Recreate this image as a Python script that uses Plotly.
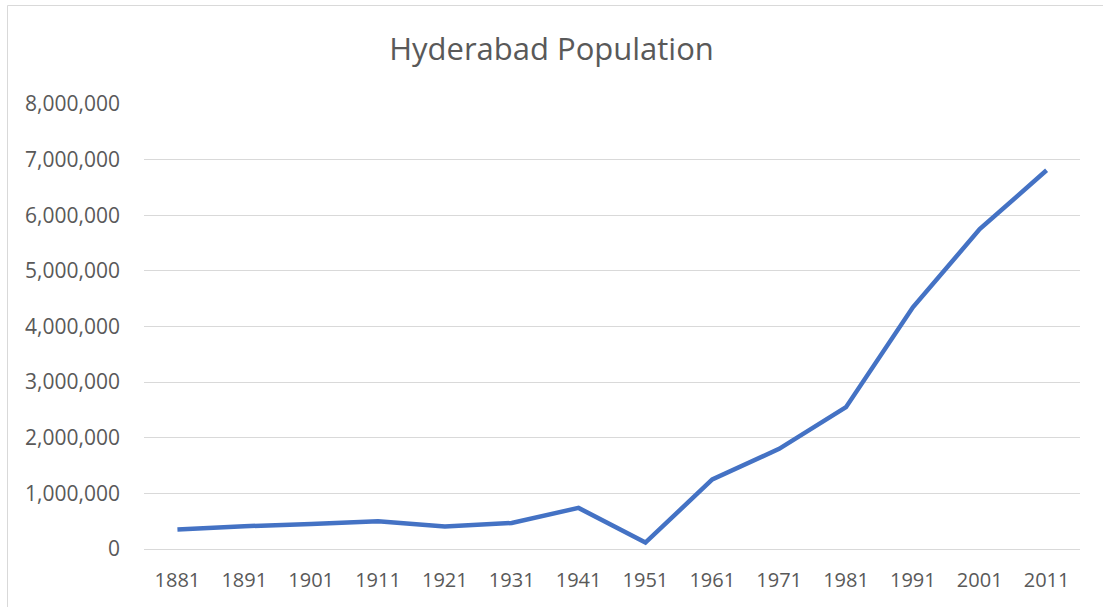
import plotly.graph_objects as go

years = ["1881", "1891", "1901", "1911", "1921", "1931", "1941",
         "1951", "1961", "1971", "1981", "1991", "2001", "2011"]
population = [350000, 410000, 448000, 500000, 405000, 467000, 739000,
              115000, 1250000, 1800000, 2550000, 4345000, 5750000, 6810000]
y_ticks = [0, 1000000, 2000000, 3000000, 4000000, 5000000, 6000000, 7000000, 8000000]
title_text = "Hyderabad Population"

W, H = 1103, 607
ML, MR, MT, MB = 144, 23, 104, 58
pw = W - ML - MR
ph = H - MT - MB

fig = go.Figure()
fig.add_trace(go.Scatter(
    x=years, y=population, mode="lines",
    line=dict(color="#4472C4", width=4.5),
    hoverinfo="x+y",
))

def px_x(p):
    return (p - ML) / pw

def px_y(p):
    return (H - MB - p) / ph

fig.update_layout(
    width=W, height=H,
    margin=dict(l=ML, r=MR, t=MT, b=MB),
    paper_bgcolor="white", plot_bgcolor="white",
    showlegend=False,
    font=dict(family="Open Sans", color="#595959", size=20),
    title=dict(text=title_text, x=0.5, xref="container", xanchor="center",
               y=1 - 49 / H, yanchor="middle", yref="container",
               font=dict(size=31, color="#595959", family="Open Sans")),
    xaxis=dict(type="category", showgrid=False, showline=False, zeroline=False,
               ticks="", ticklabelstandoff=17, range=[-0.5, len(years) - 0.5],
               tickfont=dict(size=20)),
    yaxis=dict(range=[0, 8000000], tickvals=y_ticks,
               ticktext=[f"{v:,}" for v in y_ticks],
               showgrid=True, gridcolor="#d9d9d9", gridwidth=1,
               zeroline=True, zerolinecolor="#d9d9d9", zerolinewidth=1,
               showline=False, ticks="", ticklabelstandoff=23,
               tickfont=dict(size=21)),
    shapes=[dict(type="rect", xref="paper", yref="paper",
                 x0=px_x(7.5), x1=px_x(1115), y0=px_y(5.5), y1=px_y(620),
                 line=dict(color="#d9d9d9", width=1), fillcolor="rgba(0,0,0,0)",
                 layer="below")],
)

fig.write_html("out.html",
               config={"displayModeBar": False},
               post_script="document.body.style.margin='0';document.body.style.overflow='hidden';")
